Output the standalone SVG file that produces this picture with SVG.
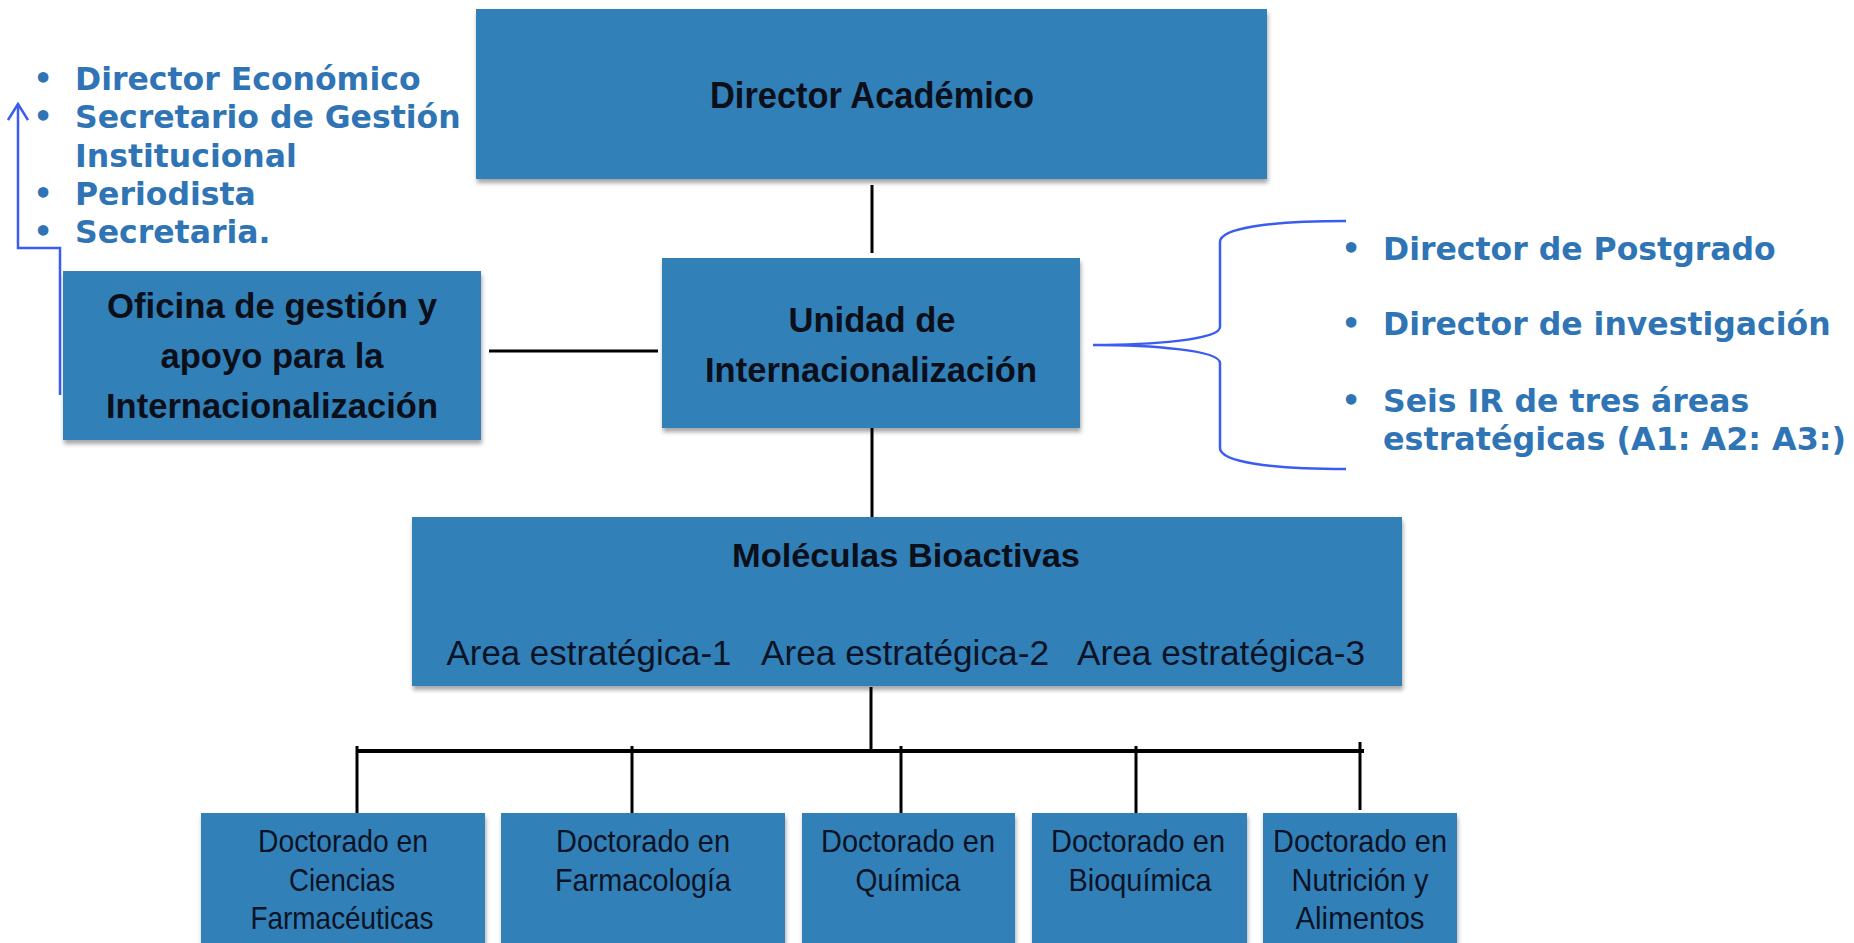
<svg xmlns="http://www.w3.org/2000/svg" width="1854" height="943" viewBox="0 0 1854 943">
<style>
.box{fill:#3380b8;filter:url(#sh)}
.bt{font-family:"Liberation Sans",Arial,sans-serif;font-weight:bold;fill:#0b0f1a;text-anchor:middle}
.rt{font-family:"Liberation Sans",Arial,sans-serif;fill:#0b1326;text-anchor:middle}
.bl{font-family:"DejaVu Sans",Verdana,sans-serif;font-weight:bold;font-size:31.5px;fill:#2f74b5}
.dot{font-family:"DejaVu Sans",Verdana,sans-serif;font-weight:bold;font-size:30px;fill:#2f74b5;text-anchor:middle}
.k{stroke:#000;stroke-width:3;fill:none}
.b{stroke:#3a5cf0;stroke-width:2.5;fill:none}
</style>
<defs>
<filter id="sh" x="-5%" y="-10%" width="110%" height="130%">
<feDropShadow dx="1" dy="4" stdDeviation="2" flood-color="#000" flood-opacity="0.35"/>
</filter>
<marker id="ar" viewBox="0 0 20 22" refX="18" refY="11" markerWidth="20" markerHeight="22" markerUnits="userSpaceOnUse" orient="auto">
<path d="M2,1 L18,11 L2,21" fill="none" stroke="#3a5cf0" stroke-width="2.5"/>
</marker>
</defs>
<rect width="1854" height="943" fill="#fff"/>

<g id="connectors">
<line class="k" x1="872" y1="185" x2="872" y2="253"/>
<line class="k" x1="489" y1="351" x2="658" y2="351"/>
<line class="k" x1="872" y1="428" x2="872" y2="517"/>
<line class="k" x1="871" y1="687" x2="871" y2="751"/>
<line stroke="#000" stroke-width="4" x1="357" y1="751" x2="1364" y2="751"/>
<line class="k" x1="357" y1="746" x2="357" y2="813"/>
<line class="k" x1="632" y1="746" x2="632" y2="813"/>
<line class="k" x1="901" y1="746" x2="901" y2="813"/>
<line class="k" x1="1136" y1="746" x2="1136" y2="813"/>
<line class="k" x1="1360" y1="742" x2="1360" y2="810"/>
<path class="b" d="M60,395 L60,248 L18,248 L18,104" marker-end="url(#ar)"/>
<path class="b" d="M1346,221 C1270,221 1220,228 1220,242 L1220,327 C1220,340 1150,345 1093,345 C1150,345 1220,350 1220,363 L1220,448 C1220,462 1270,469 1346,469"/>
</g>

<g id="director-academico">
<rect class="box" x="476" y="9" width="791" height="170"/>
<text class="bt" x="872" y="108" font-size="36" textLength="324" lengthAdjust="spacingAndGlyphs">Director Académico</text>
</g>

<g id="unidad">
<rect class="box" x="662" y="258" width="418" height="170"/>
<text class="bt" x="872" y="332" font-size="35" textLength="167" lengthAdjust="spacingAndGlyphs">Unidad de</text>
<text class="bt" x="871" y="382" font-size="35" textLength="332" lengthAdjust="spacingAndGlyphs">Internacionalización</text>
</g>

<g id="oficina">
<rect class="box" x="63" y="271" width="418" height="169"/>
<text class="bt" x="272" y="318" font-size="35" textLength="330" lengthAdjust="spacingAndGlyphs">Oficina de gestión y</text>
<text class="bt" x="272" y="368" font-size="35" textLength="223" lengthAdjust="spacingAndGlyphs">apoyo para la</text>
<text class="bt" x="272" y="418" font-size="35" textLength="332" lengthAdjust="spacingAndGlyphs">Internacionalización</text>
</g>

<g id="moleculas">
<rect class="box" x="412" y="517" width="990" height="169"/>
<text class="bt" x="906" y="567" font-size="34" textLength="348" lengthAdjust="spacingAndGlyphs">Moléculas Bioactivas</text>
<text class="rt" x="589" y="665" font-size="35" textLength="285" lengthAdjust="spacingAndGlyphs">Area estratégica-1</text>
<text class="rt" x="905" y="665" font-size="35" textLength="288" lengthAdjust="spacingAndGlyphs">Area estratégica-2</text>
<text class="rt" x="1221" y="665" font-size="35" textLength="288" lengthAdjust="spacingAndGlyphs">Area estratégica-3</text>
</g>

<g id="doc-ciencias">
<rect class="box" x="201" y="813" width="284" height="140"/>
<text class="rt" x="343" y="852" font-size="32" textLength="170" lengthAdjust="spacingAndGlyphs">Doctorado en</text>
<text class="rt" x="342" y="891" font-size="32" textLength="106" lengthAdjust="spacingAndGlyphs">Ciencias</text>
<text class="rt" x="342" y="929" font-size="32" textLength="183" lengthAdjust="spacingAndGlyphs">Farmacéuticas</text>
</g>

<g id="doc-farmacologia">
<rect class="box" x="501" y="813" width="284" height="140"/>
<text class="rt" x="643" y="852" font-size="32" textLength="174" lengthAdjust="spacingAndGlyphs">Doctorado en</text>
<text class="rt" x="643" y="891" font-size="32" textLength="176" lengthAdjust="spacingAndGlyphs">Farmacología</text>
</g>

<g id="doc-quimica">
<rect class="box" x="802" y="813" width="213" height="140"/>
<text class="rt" x="908" y="852" font-size="32" textLength="174" lengthAdjust="spacingAndGlyphs">Doctorado en</text>
<text class="rt" x="908" y="891" font-size="32" textLength="105" lengthAdjust="spacingAndGlyphs">Química</text>
</g>

<g id="doc-bioquimica">
<rect class="box" x="1032" y="813" width="215" height="140"/>
<text class="rt" x="1138" y="852" font-size="32" textLength="174" lengthAdjust="spacingAndGlyphs">Doctorado en</text>
<text class="rt" x="1140" y="891" font-size="32" textLength="143" lengthAdjust="spacingAndGlyphs">Bioquímica</text>
</g>

<g id="doc-nutricion">
<rect class="box" x="1263" y="813" width="194" height="140"/>
<text class="rt" x="1360" y="852" font-size="32" textLength="174" lengthAdjust="spacingAndGlyphs">Doctorado en</text>
<text class="rt" x="1360" y="891" font-size="32" textLength="137" lengthAdjust="spacingAndGlyphs">Nutrición y</text>
<text class="rt" x="1360" y="929" font-size="32" textLength="129" lengthAdjust="spacingAndGlyphs">Alimentos</text>
</g>

<g id="lista-oficina">
<text class="dot" x="43" y="89">•</text>
<text class="bl" x="75" y="90">Director Económico</text>
<text class="dot" x="43" y="127">•</text>
<text class="bl" x="75" y="128">Secretario de Gestión</text>
<text class="bl" x="75" y="167">Institucional</text>
<text class="dot" x="43" y="204">•</text>
<text class="bl" x="75" y="205">Periodista</text>
<text class="dot" x="43" y="242">•</text>
<text class="bl" x="75" y="243">Secretaria.</text>
</g>

<g id="lista-unidad">
<text class="dot" x="1351" y="259">•</text>
<text class="bl" x="1383" y="260">Director de Postgrado</text>
<text class="dot" x="1351" y="334">•</text>
<text class="bl" x="1383" y="335">Director de investigación</text>
<text class="dot" x="1351" y="411">•</text>
<text class="bl" x="1383" y="412">Seis IR de tres áreas</text>
<text class="bl" x="1383" y="450" textLength="463" lengthAdjust="spacingAndGlyphs">estratégicas (A1: A2: A3:)</text>
</g>
</svg>
